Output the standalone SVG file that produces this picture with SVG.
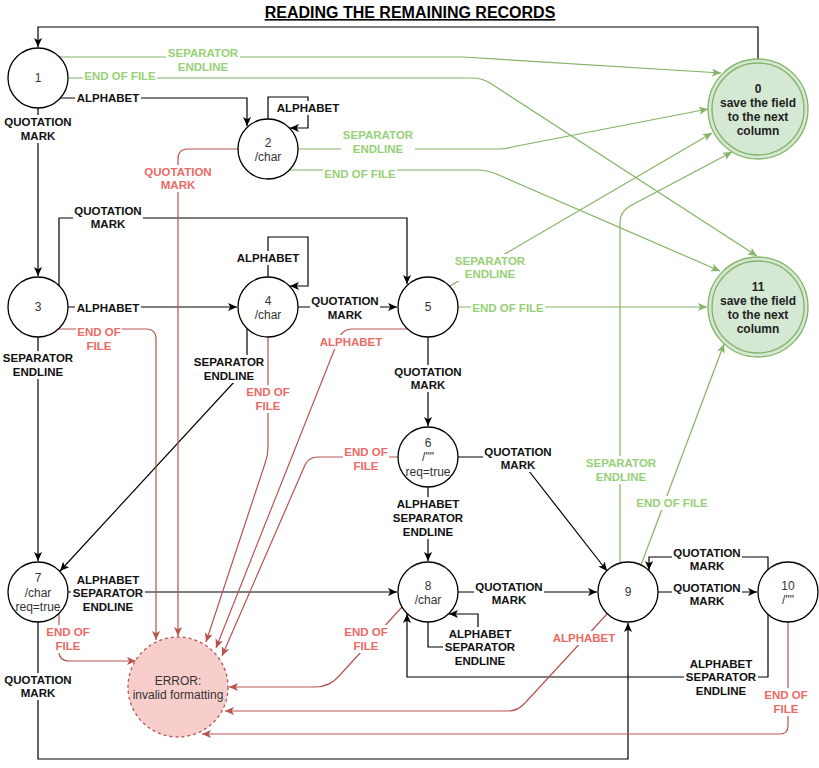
<svg xmlns="http://www.w3.org/2000/svg" width="819" height="768" viewBox="0 0 819 768">
<style>
.st{fill:#fff;stroke:#000;stroke-width:1.3}
.fin{fill:#d5e8d4;stroke:#82b366;stroke-width:1.3}
.err{fill:#f8cecc;stroke:#b85450;stroke-width:1.3;stroke-dasharray:3 3}
.nt{font-family:"Liberation Sans",Arial,sans-serif;font-size:12px;fill:#333;text-anchor:middle}
.nb{font-family:"Liberation Sans",Arial,sans-serif;font-size:12px;font-weight:bold;fill:#222;text-anchor:middle}
.k{fill:none;stroke:#000;stroke-width:1.2}
.g{fill:none;stroke:#82b366;stroke-width:1.2}
.r{fill:none;stroke:#b85450;stroke-width:1.2}
.lb{font-family:"Liberation Sans",Arial,sans-serif;font-size:11.5px;font-weight:bold;text-anchor:middle}
.lk{fill:#111}
.lg{fill:#97d077}
.lr{fill:#ea6b66}
.bg{fill:#fff}
.title{font-family:"Liberation Sans",Arial,sans-serif;font-size:16px;font-weight:bold;fill:#000;text-anchor:middle;text-decoration:underline}
</style>
<defs>
<marker id="ak" viewBox="0 0 10 10" refX="10" refY="5" markerWidth="9" markerHeight="9" markerUnits="userSpaceOnUse" orient="auto"><path d="M0,0.5 L10,5 L0,9.5 L2.5,5 z" fill="#000"/></marker>
<marker id="ag" viewBox="0 0 10 10" refX="10" refY="5" markerWidth="9" markerHeight="9" markerUnits="userSpaceOnUse" orient="auto"><path d="M0,0.5 L10,5 L0,9.5 L2.5,5 z" fill="#82b366"/></marker>
<marker id="ar" viewBox="0 0 10 10" refX="10" refY="5" markerWidth="9" markerHeight="9" markerUnits="userSpaceOnUse" orient="auto"><path d="M0,0.5 L10,5 L0,9.5 L2.5,5 z" fill="#b85450"/></marker>
</defs>
<rect width="819" height="768" fill="#fff"/>
<text class="title" x="410" y="18">READING THE REMAINING RECORDS</text>

<g id="connectors">
<g marker-end="url(#ak)">
<path class="k" d="M758,59 V27 H38 V47"/>
<path class="k" d="M60,98 H247 V126"/>
<path class="k" d="M268,119 V97 H308 V128 H290"/>
<path class="k" d="M38,108 V276"/>
<path class="k" d="M59,286 V218 H407 V284"/>
<path class="k" d="M68,307 H237"/>
<path class="k" d="M268,277 V237 H308 V286 H290"/>
<path class="k" d="M298,307 H397"/>
<path class="k" d="M38,337 V561"/>
<path class="k" d="M247,329 V368 L60,571"/>
<path class="k" d="M68,592 H397"/>
<path class="k" d="M428,337 V426"/>
<path class="k" d="M428,487 V561"/>
<path class="k" d="M458,457 H518 L607,571"/>
<path class="k" d="M458,592 H597"/>
<path class="k" d="M428,622 V647 H478 V614 H449"/>
<path class="k" d="M658,592 H757"/>
<path class="k" d="M768,570 V557 H649 V570"/>
<path class="k" d="M768,614 V677 H407 V614"/>
<path class="k" d="M38,622 V759 H628 V623"/>
</g>
<g marker-end="url(#ag)">
<path class="g" d="M60,57 H463 L721,73"/>
<path class="g" d="M68,78 H472 Q482,78 490,83 L757,256"/>
<path class="g" d="M298,149 H500 Q506,149 512,147 L708,109"/>
<path class="g" d="M290,170 H478 Q486,170 494,173 L720,271"/>
<path class="g" d="M450,286 L712,133"/>
<path class="g" d="M458,307 H707"/>
<path class="g" d="M620,563 V222 Q620,212 630,206 L732,152"/>
<path class="g" d="M641,565 L724,344"/>
</g>
<g marker-end="url(#ar)">
<path class="r" d="M238,149 H188 Q178,149 178,159 V636"/>
<path class="r" d="M59,329 H146 Q156,329 156,339 V640"/>
<path class="r" d="M268,337 V447 Q268,455 265.5,462 L206,642"/>
<path class="r" d="M407,329 H352 Q343,329 339,338 L216,648"/>
<path class="r" d="M398,457 H318 Q309,457 305,465 L222,656"/>
<path class="r" d="M59,614 V651 Q59,661 69,661 H136"/>
<path class="r" d="M402,607 L340,675 Q330,687 315,687 H229"/>
<path class="r" d="M607,614 L525,703 Q518,711 508,711 H225"/>
<path class="r" d="M788,622 V726 Q788,734 780,734 H202"/>
</g>
</g>

<g id="labels">
<!-- black -->
<rect class="bg" x="75" y="91" width="66" height="14"/><text class="lb lk" x="108" y="102">ALPHABET</text>
<rect class="bg" x="275" y="101" width="66" height="14"/><text class="lb lk" x="308" y="112">ALPHABET</text>
<rect class="bg" x="3" y="115" width="70" height="28"/><text class="lb lk" x="38" y="126">QUOTATION<tspan x="38" y="140">MARK</tspan></text>
<rect class="bg" x="73" y="204" width="70" height="27"/><text class="lb lk" x="108" y="215">QUOTATION<tspan x="108" y="228">MARK</tspan></text>
<rect class="bg" x="75" y="301" width="66" height="14"/><text class="lb lk" x="108" y="312">ALPHABET</text>
<rect class="bg" x="235" y="251" width="66" height="14"/><text class="lb lk" x="268" y="262">ALPHABET</text>
<rect class="bg" x="310" y="294" width="70" height="28"/><text class="lb lk" x="345" y="305">QUOTATION<tspan x="345" y="319">MARK</tspan></text>
<rect class="bg" x="1" y="351" width="74" height="28"/><text class="lb lk" x="38" y="362">SEPARATOR<tspan x="38" y="376">ENDLINE</tspan></text>
<rect class="bg" x="192" y="355" width="74" height="28"/><text class="lb lk" x="229" y="366">SEPARATOR<tspan x="229" y="380">ENDLINE</tspan></text>
<rect class="bg" x="393" y="365" width="70" height="27"/><text class="lb lk" x="428" y="376">QUOTATION<tspan x="428" y="389">MARK</tspan></text>
<rect class="bg" x="483" y="445" width="70" height="27"/><text class="lb lk" x="518" y="456">QUOTATION<tspan x="518" y="469">MARK</tspan></text>
<rect class="bg" x="391" y="497" width="74" height="42"/><text class="lb lk" x="428" y="508">ALPHABET<tspan x="428" y="522">SEPARATOR</tspan><tspan x="428" y="536">ENDLINE</tspan></text>
<rect class="bg" x="71" y="573" width="74" height="41"/><text class="lb lk" x="108" y="584">ALPHABET<tspan x="108" y="597">SEPARATOR</tspan><tspan x="108" y="611">ENDLINE</tspan></text>
<rect class="bg" x="474" y="580" width="70" height="27"/><text class="lb lk" x="509" y="591">QUOTATION<tspan x="509" y="604">MARK</tspan></text>
<rect class="bg" x="672" y="546" width="70" height="27"/><text class="lb lk" x="707" y="557">QUOTATION<tspan x="707" y="570">MARK</tspan></text>
<rect class="bg" x="672" y="581" width="70" height="27"/><text class="lb lk" x="707" y="592">QUOTATION<tspan x="707" y="605">MARK</tspan></text>
<rect class="bg" x="443" y="627" width="74" height="41"/><text class="lb lk" x="480" y="638">ALPHABET<tspan x="480" y="651">SEPARATOR</tspan><tspan x="480" y="665">ENDLINE</tspan></text>
<rect class="bg" x="684" y="657" width="74" height="41"/><text class="lb lk" x="721" y="668">ALPHABET<tspan x="721" y="681">SEPARATOR</tspan><tspan x="721" y="695">ENDLINE</tspan></text>
<rect class="bg" x="3" y="673" width="70" height="27"/><text class="lb lk" x="38" y="684">QUOTATION<tspan x="38" y="697">MARK</tspan></text>
<!-- green -->
<rect class="bg" x="166" y="46" width="74" height="28"/><text class="lb lg" x="203" y="57">SEPARATOR<tspan x="203" y="71">ENDLINE</tspan></text>
<rect class="bg" x="83" y="69" width="74" height="14"/><text class="lb lg" x="120" y="80">END OF FILE</text>
<rect class="bg" x="341" y="128" width="74" height="28"/><text class="lb lg" x="378" y="139">SEPARATOR<tspan x="378" y="153">ENDLINE</tspan></text>
<rect class="bg" x="323" y="167" width="74" height="14"/><text class="lb lg" x="360" y="178">END OF FILE</text>
<rect class="bg" x="453" y="254" width="74" height="27"/><text class="lb lg" x="490" y="265">SEPARATOR<tspan x="490" y="278">ENDLINE</tspan></text>
<rect class="bg" x="471" y="301" width="74" height="14"/><text class="lb lg" x="508" y="312">END OF FILE</text>
<rect class="bg" x="584" y="456" width="74" height="28"/><text class="lb lg" x="621" y="467">SEPARATOR<tspan x="621" y="481">ENDLINE</tspan></text>
<rect class="bg" x="635" y="496" width="74" height="14"/><text class="lb lg" x="672" y="507">END OF FILE</text>
<!-- red -->
<rect class="bg" x="143" y="165" width="70" height="27"/><text class="lb lr" x="178" y="176">QUOTATION<tspan x="178" y="189">MARK</tspan></text>
<rect class="bg" x="76" y="325" width="46" height="28"/><text class="lb lr" x="99" y="336">END OF<tspan x="99" y="350">FILE</tspan></text>
<rect class="bg" x="318" y="335" width="66" height="14"/><text class="lb lr" x="351" y="346">ALPHABET</text>
<rect class="bg" x="245" y="385" width="46" height="28"/><text class="lb lr" x="268" y="396">END OF<tspan x="268" y="410">FILE</tspan></text>
<rect class="bg" x="343" y="445" width="46" height="28"/><text class="lb lr" x="366" y="456">END OF<tspan x="366" y="470">FILE</tspan></text>
<rect class="bg" x="45" y="625" width="46" height="28"/><text class="lb lr" x="68" y="636">END OF<tspan x="68" y="650">FILE</tspan></text>
<rect class="bg" x="343" y="625" width="46" height="28"/><text class="lb lr" x="366" y="636">END OF<tspan x="366" y="650">FILE</tspan></text>
<rect class="bg" x="551" y="631" width="66" height="14"/><text class="lb lr" x="584" y="642">ALPHABET</text>
<rect class="bg" x="763" y="688" width="46" height="28"/><text class="lb lr" x="786" y="699">END OF<tspan x="786" y="713">FILE</tspan></text>
</g>

<g id="node1"><circle class="st" cx="38" cy="78" r="30"/><text class="nt" x="38" y="82">1</text></g>
<g id="node2"><circle class="st" cx="268" cy="149" r="30"/><text class="nt" x="268" y="147">2<tspan x="268" y="161">/char</tspan></text></g>
<g id="node3"><circle class="st" cx="38" cy="307" r="30"/><text class="nt" x="38" y="311">3</text></g>
<g id="node4"><circle class="st" cx="268" cy="307" r="30"/><text class="nt" x="268" y="305">4<tspan x="268" y="319">/char</tspan></text></g>
<g id="node5"><circle class="st" cx="428" cy="307" r="30"/><text class="nt" x="428" y="311">5</text></g>
<g id="node6"><circle class="st" cx="428" cy="457" r="30"/><text class="nt" x="428" y="447">6<tspan x="428" y="461">/""</tspan><tspan x="428" y="476">req=true</tspan></text></g>
<g id="node7"><circle class="st" cx="38" cy="592" r="30"/><text class="nt" x="38" y="582">7<tspan x="38" y="597">/char</tspan><tspan x="38" y="611">req=true</tspan></text></g>
<g id="node8"><circle class="st" cx="428" cy="592" r="30"/><text class="nt" x="428" y="590">8<tspan x="428" y="604">/char</tspan></text></g>
<g id="node9"><circle class="st" cx="628" cy="592" r="30"/><text class="nt" x="628" y="596">9</text></g>
<g id="node10"><circle class="st" cx="788" cy="592" r="30"/><text class="nt" x="788" y="590">10<tspan x="788" y="604">/""</tspan></text></g>
<g id="node0"><circle class="fin" cx="758" cy="109" r="50"/><circle class="fin" cx="758" cy="109" r="46"/><text class="nb" x="758" y="93">0<tspan x="758" y="107">save the field</tspan><tspan x="758" y="121">to the next</tspan><tspan x="758" y="135">column</tspan></text></g>
<g id="node11"><circle class="fin" cx="758" cy="307" r="50"/><circle class="fin" cx="758" cy="307" r="46"/><text class="nb" x="758" y="291">11<tspan x="758" y="305">save the field</tspan><tspan x="758" y="319">to the next</tspan><tspan x="758" y="333">column</tspan></text></g>
<g id="error"><circle class="err" cx="178" cy="687" r="50"/><text class="nt" x="178" y="685">ERROR:<tspan x="178" y="699">invalid formatting</tspan></text></g>
</svg>
